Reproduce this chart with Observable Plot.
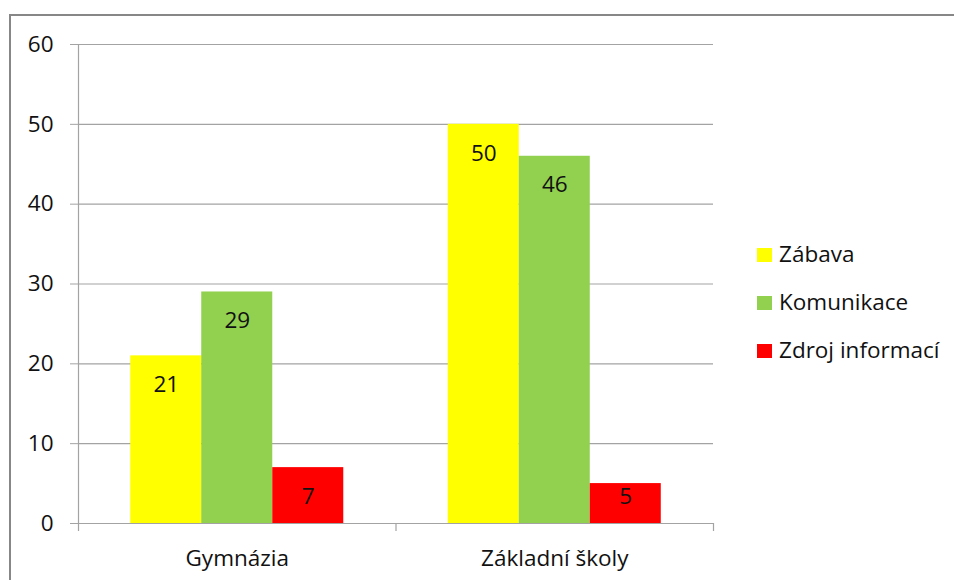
<!DOCTYPE html>
<html>
<head>
<meta charset="utf-8">
<script src="https://cdn.jsdelivr.net/npm/d3@7"></script>
<script src="https://cdn.jsdelivr.net/npm/@observablehq/plot@0.6"></script>
<style>
  html, body { margin: 0; padding: 0; background: #fff; overflow: hidden; }
  #wrap { position: relative; width: 954px; height: 580px; overflow: hidden; font-family: "Open Sans", Lato, sans-serif; }
  #border { position: absolute; left: 9px; top: 14px; width: 2000px; height: 2000px; border-left: 2px solid #878787; border-top: 2px solid #878787; }
  #chart { position: absolute; left: 0; top: 0; }
  #legend { position: absolute; left: 757px; top: 0; }
  .item { position: absolute; left: 0; white-space: nowrap; font-size: 22.5px; color: #111; }
  .sw { position: absolute; left: 0; width: 15px; height: 14px; }
  .lbl { position: absolute; left: 22px; line-height: 24px; }
</style>
</head>
<body>
<div id="wrap">
  <div id="border"></div>
  <div id="chart"></div>
  <div id="legend"></div>
</div>
<script>
const categories = ["Gymnázia", "Základní školy"];
const series = ["Zábava", "Komunikace", "Zdroj informací"];
const colors = ["#FFFF00", "#92D050", "#FF0000"];
const zabava = [21, 50];
const komunikace = [29, 46];
const zdrojInformaci = [7, 5];
const yTicks = [0, 10, 20, 30, 40, 50, 60];

const values = [zabava, komunikace, zdrojInformaci];
const groupFrac = 0.671;
const barFrac = groupFrac / series.length;
const offset = (1 - groupFrac) / 2;
const labelFloor = 7; // small bars keep their label at this height

const rows = [];
categories.forEach((cat, i) => {
  series.forEach((ser, j) => {
    const x1 = i + offset + j * barFrac;
    rows.push({cat, ser, value: values[j][i], x1, x2: x1 + barFrac, xc: x1 + barFrac / 2});
  });
});

const gridColor = "#a3a3a3";
const plot = Plot.plot({
  width: 954,
  height: 580,
  marginLeft: 78,
  marginRight: 241,
  marginTop: 44,
  marginBottom: 57,
  style: {fontFamily: "'Open Sans', Lato, sans-serif", fontSize: "22.5px", color: "#111", background: "transparent"},
  x: {domain: [0, categories.length], axis: null},
  y: {domain: [0, 60], axis: null},
  color: {domain: series, range: colors},
  marks: [
    Plot.ruleY(yTicks.slice(1), {stroke: gridColor, strokeWidth: 1.2}),
    Plot.rectY(rows, {x1: "x1", x2: "x2", y: "value", fill: "ser"}),
    Plot.ruleY([0], {stroke: gridColor, strokeWidth: 1.2}),
    Plot.ruleX([0], {y1: -1, y2: 60, stroke: gridColor, strokeWidth: 1.2}),
    Plot.ruleX(d3.range(1, categories.length + 1), {y1: -1, y2: 0, stroke: gridColor, strokeWidth: 1.2}),
    Plot.axisY({ticks: yTicks, tickSize: 8, tickPadding: 17, stroke: gridColor, fill: "#111", label: null}),
    Plot.axisX({ticks: categories.map((c, i) => i + 0.5), tickFormat: d => categories[Math.floor(d)], tickSize: 0, tickPadding: 27, fill: "#111", label: null}),
    Plot.text(rows, {x: "xc", y: d => Math.max(d.value, labelFloor), text: d => String(d.value), dy: 29, fill: "#111", fontSize: 22.5})
  ]
});
document.getElementById("chart").appendChild(plot);

const legend = document.getElementById("legend");
const rowY = [255, 303, 351];
series.forEach((s, j) => {
  const item = document.createElement("div");
  item.className = "item";
  item.style.top = rowY[j] + "px";
  item.innerHTML = `<div class="sw" style="top:-7px;background:${colors[j]}"></div><div class="lbl" style="top:-13px">${s}</div>`;
  legend.appendChild(item);
});
</script>
</body>
</html>
